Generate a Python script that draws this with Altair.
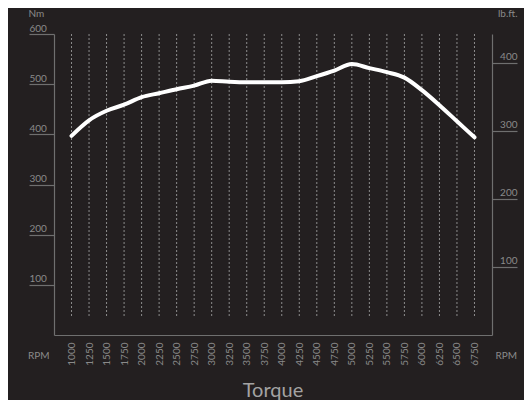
import altair as alt
import pandas as pd

rpm = [1000, 1250, 1500, 1750, 2000, 2250, 2500, 2750, 3000, 3250, 3500, 3750,
       4000, 4250, 4500, 4750, 5000, 5250, 5500, 5750, 6000, 6250, 6500, 6750]
torque_nm = [397, 428, 447, 459, 474, 482, 490, 497, 507, 505, 504, 504,
             504, 506, 516, 527, 540, 532, 524, 513, 488, 458, 426, 394]
nm_ticks = [100, 200, 300, 400, 500, 600]
lbft_ticks = [100, 200, 300, 400]
NM_PER_LBFT = 1.35582

df = pd.DataFrame({"rpm": rpm, "nm": torque_nm})

BG = "#231f20"
AXIS = "#6f6f6f"
LABEL = "#8a8a8a"
FONT = "Lato"

x_scale = alt.Scale(domain=[750, 7000], nice=False, zero=False)
x_axis = alt.Axis(values=rpm, format="d", ticks=False, labelAngle=270,
                  labelPadding=7, labelFontSize=10, labelColor=LABEL,
                  labelFont=FONT, domainColor=AXIS, domainWidth=1.2,
                  grid=False, title=None)

grid = alt.Chart(df).mark_rule(color="#8c8c8c", strokeDash=[2, 2],
                               strokeWidth=1).encode(
    x=alt.X("rpm:Q", scale=x_scale, axis=x_axis),
    y=alt.datum(600, type="quantitative"),
    y2=alt.datum(35),
)

left_axis = alt.Axis(values=nm_ticks, tickSize=25, tickColor=AXIS, tickWidth=1.2,
                     domainColor=AXIS, domainWidth=1.2, labelAlign="left",
                     labelBaseline="alphabetic", labelOffset=-3, labelPadding=0,
                     labelFontSize=10, labelColor=LABEL, labelFont=FONT,
                     grid=False, title="Nm", titleAngle=0, titleX=-26,
                     titleY=-18, titleAlign="left", titleBaseline="alphabetic",
                     titleFontSize=10, titleFontWeight="normal",
                     titleColor=LABEL, titleFont=FONT)

line = alt.Chart(df).mark_line(color="white", strokeWidth=4,
                               interpolate="monotone", strokeCap="round").encode(
    x=alt.X("rpm:Q", scale=x_scale, axis=x_axis),
    y=alt.Y("nm:Q", scale=alt.Scale(domain=[0, 600], nice=False), axis=left_axis),
)

left = alt.layer(grid, line)

right_axis = alt.Axis(values=lbft_ticks, orient="right", tickSize=25,
                      tickColor=AXIS, tickWidth=1.2, domainColor=AXIS,
                      domainWidth=1.2, labelAlign="right",
                      labelBaseline="alphabetic", labelOffset=-3,
                      labelPadding=0, labelFontSize=10, labelColor=LABEL,
                      labelFont=FONT, grid=False, title="lb.ft.",
                      titleAngle=0, titleX=25, titleY=-18, titleAlign="right",
                      titleBaseline="alphabetic", titleFontSize=10,
                      titleFontWeight="normal", titleColor=LABEL,
                      titleFont=FONT)

right = alt.Chart(df).transform_calculate(
    lbft=f"datum.nm / {NM_PER_LBFT}"
).mark_line(opacity=0).encode(
    x=alt.X("rpm:Q", scale=x_scale, axis=x_axis),
    y=alt.Y("lbft:Q", scale=alt.Scale(domain=[0, 600 / NM_PER_LBFT], nice=False),
            axis=right_axis),
)

rpm_df = pd.DataFrame({"t": ["RPM", "RPM"], "side": ["l", "r"]})
rpm_left = alt.Chart(rpm_df).transform_filter("datum.side == 'l'").mark_text(
    align="left", baseline="alphabetic", fontSize=10, color=LABEL, font=FONT
).encode(x=alt.value(-26), y=alt.value(325), text="t:N")
rpm_right = alt.Chart(rpm_df).transform_filter("datum.side == 'r'").mark_text(
    align="right", baseline="alphabetic", fontSize=10, color=LABEL, font=FONT
).encode(x=alt.value(463), y=alt.value(325), text="t:N")

chart = alt.layer(left, right, rpm_left, rpm_right).resolve_scale(
    y="independent"
).properties(
    width=438, height=301,
    background=BG,
    autosize="none",
    padding={"left": 46, "top": 26, "right": 32, "bottom": 65},
    title=alt.TitleParams("Torque", orient="bottom", anchor="middle",
                          fontSize=20, fontWeight="normal", color="#a3a3a3",
                          font=FONT, offset=16),
).configure_view(stroke=None)

chart.save("out.html", embed_options={"renderer": "svg", "actions": False})
